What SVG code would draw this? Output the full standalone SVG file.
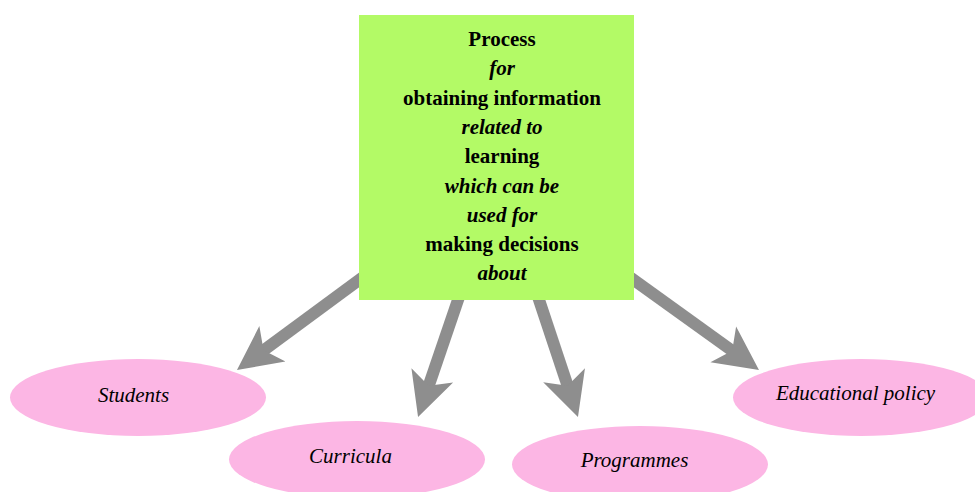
<svg xmlns="http://www.w3.org/2000/svg" width="975" height="492" viewBox="0 0 975 492">
<style>
.box{fill:#b3fa66}
.ell{fill:#fcb6e4}
.conn{stroke:#8e8e8e;stroke-width:12;fill:none;marker-end:url(#ah)}
.bt{font-family:"Liberation Serif","Times New Roman",serif;font-size:21px;font-weight:bold;fill:#000;text-anchor:middle}
.bi{font-style:italic}
.et{font-family:"Liberation Serif","Times New Roman",serif;font-size:21px;font-style:italic;fill:#000;text-anchor:middle}
</style>
<defs>
<marker id="ah" markerUnits="userSpaceOnUse" markerWidth="50" markerHeight="50" viewBox="0 -25 50 50" refX="20" refY="0" orient="auto">
<path d="M0,-22 L44,0 L0,22 L11,0 Z" fill="#8e8e8e"/>
</marker>
</defs>
<rect width="975" height="492" fill="#fff"/>
<g id="connectors">
<line class="conn" x1="365.8" y1="275" x2="256.3" y2="355.7"/>
<line class="conn" x1="463.3" y1="284.4" x2="425.8" y2="394.3"/>
<line class="conn" x1="533.8" y1="284.1" x2="570.4" y2="394.2"/>
<line class="conn" x1="625" y1="273.6" x2="739.5" y2="356"/>
</g>
<g id="process">
<rect class="box" x="359" y="15" width="275" height="285"/>
<text class="bt" x="502" y="46">Process</text>
<text class="bt bi" x="502" y="75">for</text>
<text class="bt" x="502" y="104.5">obtaining information</text>
<text class="bt bi" x="502" y="134">related to</text>
<text class="bt" x="502" y="163">learning</text>
<text class="bt bi" x="502" y="192.5">which can be</text>
<text class="bt bi" x="502" y="222">used for</text>
<text class="bt" x="502" y="251">making decisions</text>
<text class="bt bi" x="502" y="280">about</text>
</g>
<g id="students">
<ellipse class="ell" cx="138" cy="397.5" rx="128" ry="38.5"/>
<text class="et" x="133.5" y="402">Students</text>
</g>
<g id="curricula">
<ellipse class="ell" cx="357" cy="459.5" rx="128" ry="38.5"/>
<text class="et" x="350.5" y="462.7">Curricula</text>
</g>
<g id="programmes">
<ellipse class="ell" cx="640" cy="464.5" rx="128" ry="38.5"/>
<text class="et" x="634.5" y="467">Programmes</text>
</g>
<g id="policy">
<ellipse class="ell" cx="861" cy="397.5" rx="128" ry="38.5"/>
<text class="et" x="855.5" y="400">Educational policy</text>
</g>
</svg>
